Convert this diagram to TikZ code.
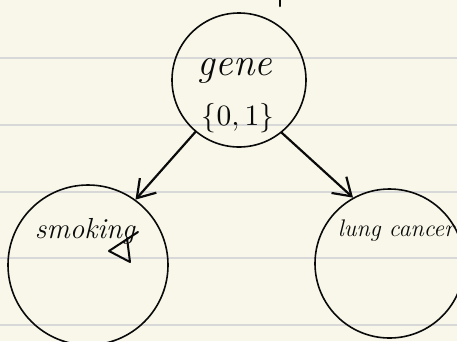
\documentclass[tikz,border=0pt]{standalone}
\usepackage{graphicx}
\usetikzlibrary{arrows.meta}
\definecolor{paper}{RGB}{248,247,234}
\definecolor{rule}{RGB}{216,216,216}
\definecolor{ink}{RGB}{10,10,10}
\begin{document}
\begin{tikzpicture}[x=1pt,y=-1pt,
  rvar/.style={circle,draw=ink,line width=1.6pt,inner sep=0pt},
  lbl/.style={inner sep=0pt,anchor=base,text=ink},
  edge/.style={draw=ink,line width=2.2pt,line cap=round,
    -{Straight Barb[length=17pt,width=22pt,line width=2.2pt]}},
  ruled/.style={draw=rule,line width=1.4pt}]
\fill[paper] (0,0) rectangle (457,341);
\useasboundingbox (0,0) rectangle (457,341);
\foreach \yy in {58,125,192,258,325} \draw[ruled] (0,\yy) -- (457,\yy);
% circles
\node[rvar,minimum size=134pt] (gene) at (239,80) {};
\node[rvar,minimum size=160pt] (smoke) at (88,265) {};
\node[rvar,minimum size=149pt] (lung) at (389.5,263.5) {};
% labels
\node[lbl,font=\fontsize{39}{44}\selectfont\itshape] (tg) at (235,75) {gene};
\node[lbl] (tb) at (238,125) {\resizebox{72pt}{!}{$\{0,1\}$}};
\node[lbl,font=\fontsize{29}{34}\selectfont\itshape] (ts) at (85,238) {smoking};
\node[lbl,font=\fontsize{24}{28}\selectfont\itshape] (tl) at (396,236) {lung cancer};
% scribbles
\draw[ink,line width=2pt,line cap=round,line join=round] (138,232) -- (109,251) -- (130,262) -- (127,238);
\draw[ink,line width=2.5pt,line cap=round] (280,0) -- (280,6);
% edges
\draw[edge] (gene.230) -- (smoke.54);
\draw[edge] (gene.309) -- (lung.119);
\end{tikzpicture}
\end{document}
